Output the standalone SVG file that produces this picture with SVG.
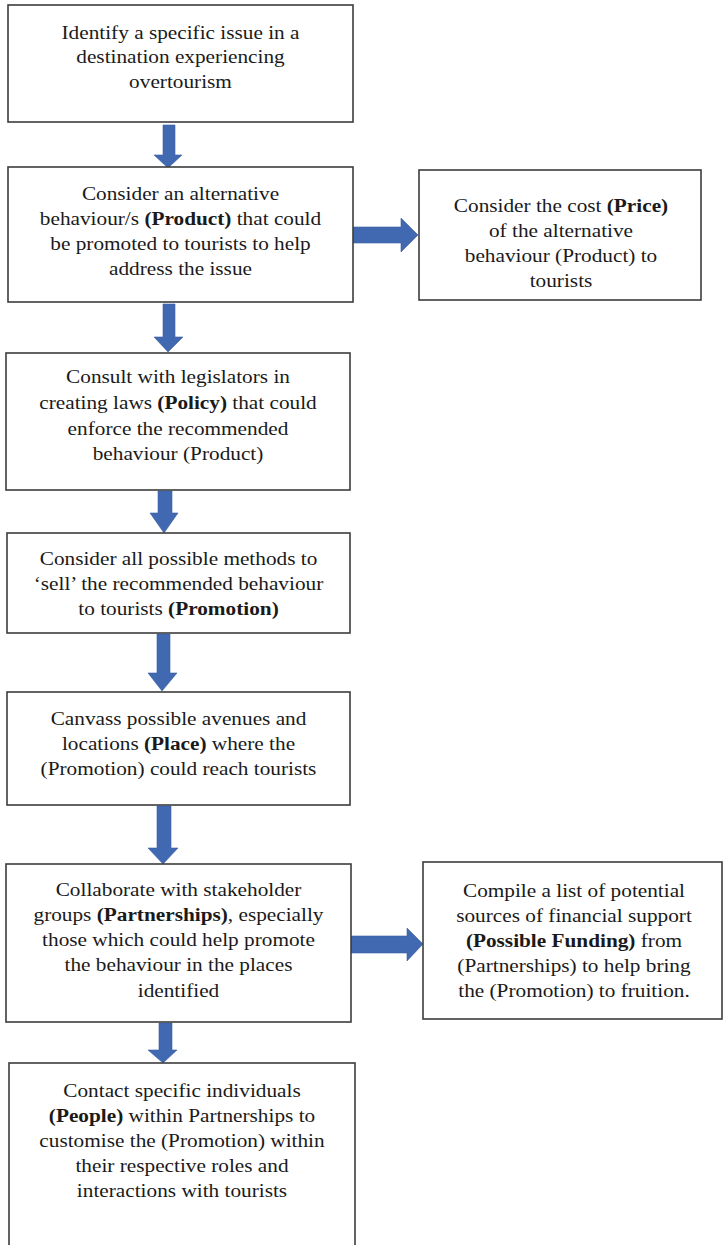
<svg xmlns="http://www.w3.org/2000/svg" width="723" height="1245" viewBox="0 0 723 1245">
  <style>
    .box { fill: #ffffff; stroke: #3c3c3c; stroke-width: 1.6; }
    .txt { font-family: "Liberation Serif", "Times New Roman", serif; font-size: 19px; fill: #1a1a1a; text-anchor: middle; }
    .b { font-weight: bold; }
    .arrow { fill: #4169b2; stroke: #3a5fa3; stroke-width: 0.6; }
  </style>
  <rect width="723" height="1245" fill="#ffffff"/>

  <!-- connectors: block arrows -->
  <g id="connectors">
    <polygon class="arrow" points="163,125 175,125 175,155 182,155 168,168 154,155 163,155"/>
    <polygon class="arrow" points="163,304 175,304 175,337 183,337 168,352 154,337 163,337"/>
    <polygon class="arrow" points="158,491 172,491 172,513 178,513 164,533 150,513 158,513"/>
    <polygon class="arrow" points="157,634 170,634 170,673 177,673 162,691 148,673 157,673"/>
    <polygon class="arrow" points="157,806 171,806 171,848 178,848 163,864 148,848 157,848"/>
    <polygon class="arrow" points="159,1023 172,1023 172,1050 177,1050 163,1063 148,1050 159,1050"/>
    <polygon class="arrow" points="353,227 401,227 401,218 418,235 401,252 401,243 353,243"/>
    <polygon class="arrow" points="351,936 407,936 407,928 423,944 407,961 407,953 351,953"/>
  </g>

  <!-- labels are set slightly wide: each label block is centred at its box middle and stretched horizontally -->
  <g id="node-issue">
    <rect class="box" x="8" y="5" width="345" height="117"/>
    <g transform="translate(180.5 0) scale(1.12 1)">
      <text class="txt" x="0" y="39">Identify a specific issue in a</text>
      <text class="txt" x="0" y="63.5">destination experiencing</text>
      <text class="txt" x="0" y="88">overtourism</text>
    </g>
  </g>

  <g id="node-product">
    <rect class="box" x="8" y="167" width="345" height="135"/>
    <g transform="translate(180.5 0) scale(1.12 1)">
      <text class="txt" x="0" y="200">Consider an alternative</text>
      <text class="txt" x="0" y="225">behaviour/s <tspan class="b">(Product)</tspan> that could</text>
      <text class="txt" x="0" y="250">be promoted to tourists to help</text>
      <text class="txt" x="0" y="275">address the issue</text>
    </g>
  </g>

  <g id="node-price">
    <rect class="box" x="419" y="170" width="282" height="130"/>
    <g transform="translate(561 0) scale(1.12 1)">
      <text class="txt" x="0" y="212">Consider the cost <tspan class="b">(Price)</tspan></text>
      <text class="txt" x="0" y="237">of the alternative</text>
      <text class="txt" x="0" y="262">behaviour (Product) to</text>
      <text class="txt" x="0" y="287">tourists</text>
    </g>
  </g>

  <g id="node-policy">
    <rect class="box" x="6" y="353" width="344" height="137"/>
    <g transform="translate(178 0) scale(1.12 1)">
      <text class="txt" x="0" y="383">Consult with legislators in</text>
      <text class="txt" x="0" y="409">creating laws <tspan class="b">(Policy)</tspan> that could</text>
      <text class="txt" x="0" y="435">enforce the recommended</text>
      <text class="txt" x="0" y="460">behaviour (Product)</text>
    </g>
  </g>

  <g id="node-promotion">
    <rect class="box" x="7" y="533" width="343" height="100"/>
    <g transform="translate(178.5 0) scale(1.12 1)">
      <text class="txt" x="0" y="565">Consider all possible methods to</text>
      <text class="txt" x="0" y="590">‘sell’ the recommended behaviour</text>
      <text class="txt" x="0" y="615">to tourists <tspan class="b">(Promotion)</tspan></text>
    </g>
  </g>

  <g id="node-place">
    <rect class="box" x="7" y="692" width="343" height="113"/>
    <g transform="translate(178.5 0) scale(1.12 1)">
      <text class="txt" x="0" y="725">Canvass possible avenues and</text>
      <text class="txt" x="0" y="750">locations <tspan class="b">(Place)</tspan> where the</text>
      <text class="txt" x="0" y="775">(Promotion) could reach tourists</text>
    </g>
  </g>

  <g id="node-partnerships">
    <rect class="box" x="6" y="864" width="345" height="158"/>
    <g transform="translate(178.5 0) scale(1.12 1)">
      <text class="txt" x="0" y="896">Collaborate with stakeholder</text>
      <text class="txt" x="0" y="921">groups <tspan class="b">(Partnerships)</tspan>, especially</text>
      <text class="txt" x="0" y="946">those which could help promote</text>
      <text class="txt" x="0" y="971">the behaviour in the places</text>
      <text class="txt" x="0" y="997">identified</text>
    </g>
  </g>

  <g id="node-funding">
    <rect class="box" x="423" y="862" width="299" height="157"/>
    <g transform="translate(574 0) scale(1.12 1)">
      <text class="txt" x="0" y="897">Compile a list of potential</text>
      <text class="txt" x="0" y="922">sources of financial support</text>
      <text class="txt" x="0" y="947"><tspan class="b">(Possible Funding)</tspan> from</text>
      <text class="txt" x="0" y="972">(Partnerships) to help bring</text>
      <text class="txt" x="0" y="997">the (Promotion) to fruition.</text>
    </g>
  </g>

  <g id="node-people">
    <rect class="box" x="9" y="1063" width="346" height="200"/>
    <g transform="translate(182 0) scale(1.12 1)">
      <text class="txt" x="0" y="1097">Contact specific individuals</text>
      <text class="txt" x="0" y="1122"><tspan class="b">(People)</tspan> within Partnerships to</text>
      <text class="txt" x="0" y="1147">customise the (Promotion) within</text>
      <text class="txt" x="0" y="1172">their respective roles and</text>
      <text class="txt" x="0" y="1197">interactions with tourists</text>
    </g>
  </g>
</svg>
